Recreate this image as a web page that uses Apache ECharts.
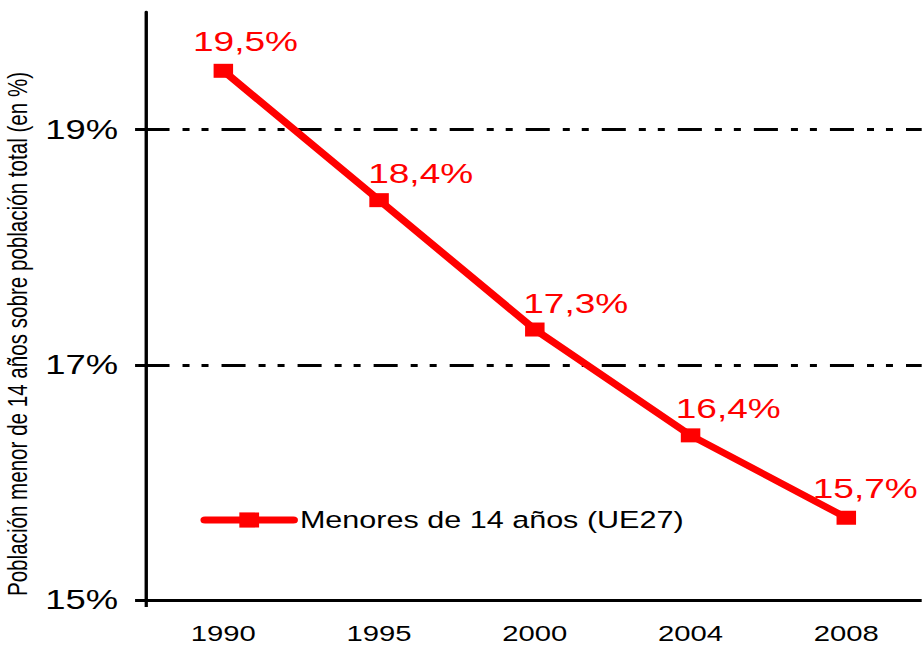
<!DOCTYPE html>
<html><head><meta charset="utf-8">
<script src="https://cdn.jsdelivr.net/npm/echarts@6/dist/echarts.min.js"></script>
<style>
html,body{margin:0;padding:0;background:#fff;overflow:hidden;width:922px;height:647px}
#c{width:709.23px;height:647px;transform:scaleX(1.3);transform-origin:0 0;}
</style></head><body><div id="c"></div>
<script>
const categories = ['1990', '1995', '2000', '2004', '2008'];
const seriesName = 'Menores de 14 años (UE27)';
const values = [19.5, 18.4, 17.3, 16.4, 15.7];
const yTicks = [15, 17, 19];
const gridLines = [17, 19];
const yTitle = 'Población menor de 14 años sobre población total (en %)';
// label placement (style only)
const labelOffsets = [[17, -30], [32, -27], [31.5, -26], [29, -27], [14.6, -29.5]];

const FONT = 'Arial, "Liberation Sans", sans-serif';
const chart = echarts.init(document.getElementById('c'), null, {renderer: 'svg'});
const dashPattern = [18.5, 10, 5.4, 9.2, 5.4, 10];

chart.setOption({
  animation: false,
  backgroundColor: '#fff',
  grid: {left: 111.9, width: 599, top: 12, height: 588, containLabel: false, outerBoundsMode: 'none'},
  legend: {
    data: [seriesName],
    left: 154.2, top: 508, padding: 0,
    itemWidth: 68, itemHeight: 19, itemGap: 8,
    textStyle: {fontFamily: FONT, fontSize: 23.5, color: '#000'},
    lineStyle: {width: 7, cap: 'round'},
    selectedMode: false
  },
  xAxis: {
    type: 'category', data: categories, boundaryGap: true,
    axisLine: {lineStyle: {color: '#000', width: 3}},
    axisTick: {show: true, length: 7, interval: (i) => i === 0, lineStyle: {color: '#000', width: 2.5}},
    axisLabel: {fontFamily: FONT, fontSize: 22.5, lineHeight: 19, color: '#000', margin: 23.5},
    splitLine: {show: false}
  },
  yAxis: {
    type: 'value', min: 15, max: 20, interval: 1,
    name: yTitle, nameLocation: 'middle', nameGap: 88,
    nameTextStyle: {fontFamily: FONT, fontSize: 20.6, color: '#000', padding: [0, 56, 0, 0]},
    axisLine: {show: true, lineStyle: {color: '#000', width: 2.6}},
    axisTick: {show: true, length: 8, customValues: yTicks, lineStyle: {color: '#000', width: 3}},
    axisLabel: {fontFamily: FONT, fontSize: 28, color: '#000', margin: 21, customValues: yTicks,
      formatter: (v) => v + '%'},
    splitLine: {show: false}
  },
  series: [{
    name: seriesName, type: 'line', data: values.map((v, i) => ({value: v, label: {offset: labelOffsets[i]}})),
    z: 3,
    color: '#ff0000',
    lineStyle: {color: '#ff0000', width: 6.5},
    itemStyle: {color: '#ff0000'},
    symbol: 'rect', symbolSize: [15, 14],
    label: {show: true, position: 'inside', fontFamily: FONT, fontSize: 28.5, color: '#ff0000',
      formatter: (p) => String(p.value).replace('.', ',') + '%'},
    emphasis: {disabled: true},
    markLine: {
      silent: true, z: 1, symbol: ['none', 'none'],
      label: {show: false},
      lineStyle: {color: '#000', width: 3, type: dashPattern, dashOffset: 0},
      emphasis: {disabled: true},
      data: gridLines.map(v => ({yAxis: v}))
    }
  }]
});
</script></body></html>
